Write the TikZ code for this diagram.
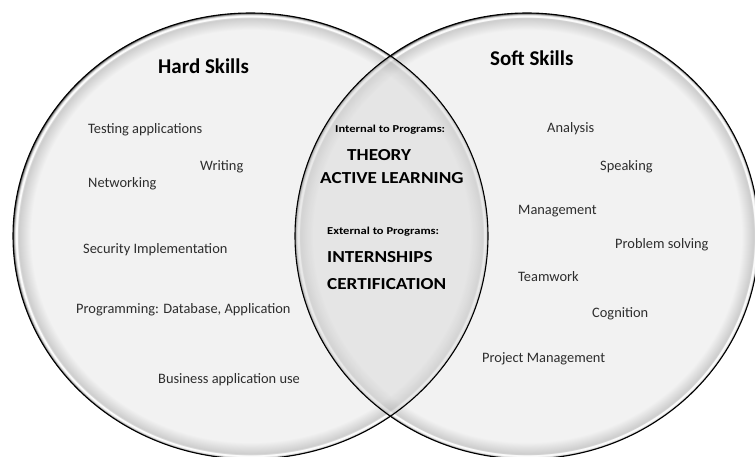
\documentclass[tikz,border=0pt]{standalone}
\usepackage{fontspec}
\setmainfont{Carlito}
\newfontfamily\widefont[FakeStretch=1.14]{Carlito}
\newfontfamily\widerfont[FakeStretch=1.18]{Carlito}
\definecolor{itemc}{RGB}{45,45,45}
\pgfdeclareradialshading{bevel}{\pgfpoint{0bp}{0bp}}{%
rgb(0bp)=(0.949,0.949,0.949);
rgb(23.1bp)=(0.949,0.949,0.949);
rgb(24.45bp)=(0.80,0.80,0.80);
rgb(24.58bp)=(0.985,0.985,0.985);
rgb(24.75bp)=(0.985,0.985,0.985);
rgb(24.95bp)=(0.50,0.50,0.50);
rgb(25bp)=(0.3,0.3,0.3);
rgb(50bp)=(0.3,0.3,0.3)}
\tikzset{
  item/.style={anchor=base west, inner sep=0pt, font=\fontsize{14.4}{16}\selectfont, text=itemc},
  title/.style={anchor=base west, inner sep=0pt, font=\fontsize{21}{24}\selectfont\bfseries, text=black},
  sub/.style={anchor=base west, inner sep=0pt, font=\widerfont\fontsize{10.6}{13}\selectfont\bfseries, text=black},
  big/.style={anchor=base west, inner sep=0pt, font=\widefont\fontsize{16.8}{20}\selectfont\bfseries, text=black},
  rim/.style={draw=black, line width=1.1pt},
}
\begin{document}
\begin{tikzpicture}[x=1pt,y=-1pt]
\useasboundingbox (0,0) rectangle (755,456);
\clip (0,0) rectangle (755,456);
\fill[white] (0,0) rectangle (755,456);
% circles
\def\leftell{(250.5,236) ellipse [x radius=237.5pt, y radius=223pt]}
\def\rightell{(527,236) ellipse [x radius=232pt, y radius=223pt]}
\shade[shading=bevel] \rightell;
\shade[shading=bevel] \leftell;
\begin{scope}
  \clip \leftell;
  \shade[shading=bevel, opacity=0.5] \rightell;
  \fill[black, opacity=0.05] \rightell;
\end{scope}
\draw[rim] \leftell;
\draw[rim] \rightell;
% titles
\node[title] (hard) at (158,73) {Hard Skills};
\node[title] (soft) at (490,65) {Soft Skills};
% hard skills
\node[item] (testing) at (88,133) {Testing applications};
\node[item] (writing) at (200,170) {Writing};
\node[item] (network) at (88,187) {Networking};
\node[item] (security) at (83,253) {Security Implementation};
\node[item] (program) at (76,313) {Programming: Database, Application};
\node[item] (business) at (158,383) {Business application use};
% centre
\node[sub] (internal) at (335,132) {Internal to Programs:};
\node[big] (theory) at (347,160) {THEORY};
\node[big] (active) at (320,183) {ACTIVE LEARNING};
\node[sub] (external) at (327,234) {External to Programs:};
\node[big] (intern) at (327,262) {INTERNSHIPS};
\node[big] (cert) at (327,289) {CERTIFICATION};
% soft skills
\node[item] (analysis) at (547,132) {Analysis};
\node[item] (speaking) at (600,170) {Speaking};
\node[item] (manage) at (518,214) {Management};
\node[item] (problem) at (615,248) {Problem solving};
\node[item] (team) at (518,281) {Teamwork};
\node[item] (cognition) at (592,317) {Cognition};
\node[item] (project) at (482,362) {Project Management};
\end{tikzpicture}
\end{document}
